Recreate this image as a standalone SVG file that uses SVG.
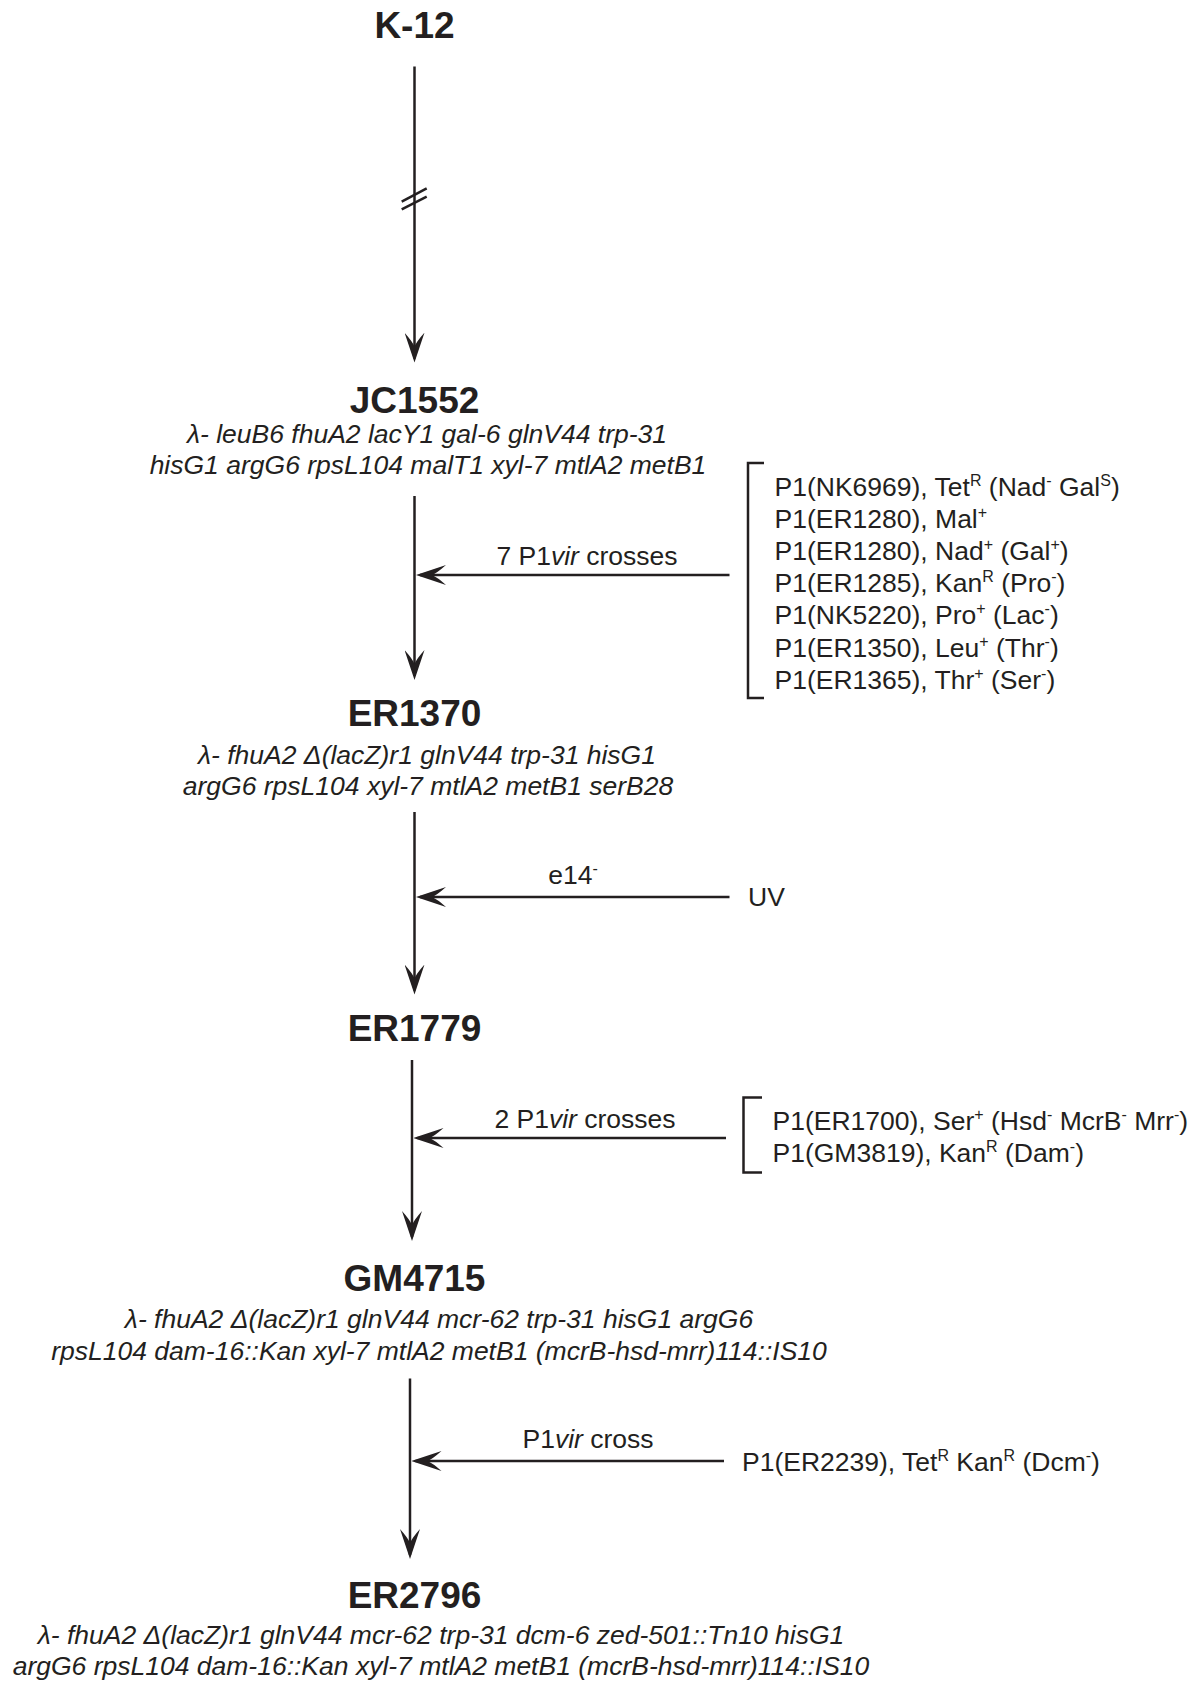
<svg xmlns="http://www.w3.org/2000/svg" width="1194" height="1682" viewBox="0 0 1194 1682">
<style>
text{font-family:"Liberation Sans",Arial,sans-serif;fill:#231f20}
.title{font-size:37px;font-weight:bold;text-anchor:middle}
.geno{font-size:26.5px;font-style:italic;text-anchor:middle}
.lbl{font-size:26.5px}
.mid{text-anchor:middle}
.sup{font-size:16px}
.it{font-style:italic}
.ln{stroke:#231f20;stroke-width:2.5;fill:none}
.arr{marker-end:url(#ah)}
</style>
<defs>
<marker id="ah" markerUnits="userSpaceOnUse" viewBox="0 0 30 20" refX="26" refY="10" markerWidth="30" markerHeight="20" orient="auto">
<path d="M30,10 L0,0 Q9,8 14,10 Q9,12 0,20 Z" fill="#231f20"/>
</marker>
</defs>
<rect width="1194" height="1682" fill="#fff"/>
<g id="connectors">
<line class="ln arr" x1="414.5" y1="66.5" x2="414.5" y2="358.6"/>
<line class="ln" x1="401.7" y1="201.7" x2="426.7" y2="188.3" stroke-width="2"/>
<line class="ln" x1="401.7" y1="209.3" x2="426.7" y2="196.7" stroke-width="2"/>
<line class="ln arr" x1="414.5" y1="496" x2="414.5" y2="676"/>
<line class="ln arr" x1="729.5" y1="575" x2="420" y2="575"/>
<line class="ln arr" x1="414.5" y1="812" x2="414.5" y2="990.5"/>
<line class="ln arr" x1="729.5" y1="897" x2="420" y2="897"/>
<line class="ln arr" x1="412" y1="1060" x2="412" y2="1237"/>
<line class="ln arr" x1="726" y1="1138" x2="417.5" y2="1138"/>
<line class="ln arr" x1="410" y1="1378.5" x2="410" y2="1555"/>
<line class="ln arr" x1="724" y1="1461" x2="415.5" y2="1461"/>
<path class="ln" d="M764,463 H748 V698 H764"/>
<path class="ln" d="M762,1097.5 H743.5 V1172.5 H762"/>
</g>
<g id="K-12"><text class="title" x="414.5" y="37.5">K-12</text></g>
<g id="JC1552">
<text class="title" x="414.5" y="413">JC1552</text>
<text class="geno" x="427" y="443">λ- leuB6 fhuA2 lacY1 gal-6 glnV44 trp-31</text>
<text class="geno" x="428" y="474">hisG1 argG6 rpsL104 malT1 xyl-7 mtlA2 metB1</text>
</g>
<g id="cross1">
<text class="lbl mid" x="587" y="565">7 P1<tspan class="it">vir</tspan> crosses</text>
<text class="lbl" x="774.5" y="495.6">P1(NK6969), Tet<tspan class="sup" dy="-10">R</tspan><tspan dy="10"> (Nad</tspan><tspan class="sup" dy="-10">-</tspan><tspan dy="10"> Gal</tspan><tspan class="sup" dy="-10">S</tspan><tspan dy="10">)</tspan></text>
<text class="lbl" x="774.5" y="527.8">P1(ER1280), Mal<tspan class="sup" dy="-10">+</tspan></text>
<text class="lbl" x="774.5" y="560">P1(ER1280), Nad<tspan class="sup" dy="-10">+</tspan><tspan dy="10"> (Gal</tspan><tspan class="sup" dy="-10">+</tspan><tspan dy="10">)</tspan></text>
<text class="lbl" x="774.5" y="592.2">P1(ER1285), Kan<tspan class="sup" dy="-10">R</tspan><tspan dy="10"> (Pro</tspan><tspan class="sup" dy="-10">-</tspan><tspan dy="10">)</tspan></text>
<text class="lbl" x="774.5" y="624.4">P1(NK5220), Pro<tspan class="sup" dy="-10">+</tspan><tspan dy="10"> (Lac</tspan><tspan class="sup" dy="-10">-</tspan><tspan dy="10">)</tspan></text>
<text class="lbl" x="774.5" y="656.6">P1(ER1350), Leu<tspan class="sup" dy="-10">+</tspan><tspan dy="10"> (Thr</tspan><tspan class="sup" dy="-10">-</tspan><tspan dy="10">)</tspan></text>
<text class="lbl" x="774.5" y="688.8">P1(ER1365), Thr<tspan class="sup" dy="-10">+</tspan><tspan dy="10"> (Ser</tspan><tspan class="sup" dy="-10">-</tspan><tspan dy="10">)</tspan></text>
</g>
<g id="ER1370">
<text class="title" x="414.5" y="726">ER1370</text>
<text class="geno" x="427" y="764">λ- fhuA2 Δ(lacZ)r1 glnV44 trp-31 hisG1</text>
<text class="geno" x="428" y="795">argG6 rpsL104 xyl-7 mtlA2 metB1 serB28</text>
</g>
<g id="uv">
<text class="lbl mid" x="573" y="884">e14<tspan class="sup" dy="-10">-</tspan></text>
<text class="lbl" x="748" y="905.5">UV</text>
</g>
<g id="ER1779"><text class="title" x="414.5" y="1041">ER1779</text></g>
<g id="cross2">
<text class="lbl mid" x="585" y="1127.5">2 P1<tspan class="it">vir</tspan> crosses</text>
<text class="lbl" x="772.5" y="1129.6">P1(ER1700), Ser<tspan class="sup" dy="-10">+</tspan><tspan dy="10"> (Hsd</tspan><tspan class="sup" dy="-10">-</tspan><tspan dy="10"> McrB</tspan><tspan class="sup" dy="-10">-</tspan><tspan dy="10"> Mrr</tspan><tspan class="sup" dy="-10">-</tspan><tspan dy="10">)</tspan></text>
<text class="lbl" x="772.5" y="1161.8">P1(GM3819), Kan<tspan class="sup" dy="-10">R</tspan><tspan dy="10"> (Dam</tspan><tspan class="sup" dy="-10">-</tspan><tspan dy="10">)</tspan></text>
</g>
<g id="GM4715">
<text class="title" x="414.5" y="1291">GM4715</text>
<text class="geno" x="439" y="1328">λ- fhuA2 Δ(lacZ)r1 glnV44 mcr-62 trp-31 hisG1 argG6</text>
<text class="geno" x="439" y="1360">rpsL104 dam-16::Kan xyl-7 mtlA2 metB1 (mcrB-hsd-mrr)114::IS10</text>
</g>
<g id="cross3">
<text class="lbl mid" x="588" y="1448">P1<tspan class="it">vir</tspan> cross</text>
<text class="lbl" x="742" y="1471">P1(ER2239), Tet<tspan class="sup" dy="-10">R</tspan><tspan dy="10"> Kan</tspan><tspan class="sup" dy="-10">R</tspan><tspan dy="10"> (Dcm</tspan><tspan class="sup" dy="-10">-</tspan><tspan dy="10">)</tspan></text>
</g>
<g id="ER2796">
<text class="title" x="414.5" y="1608">ER2796</text>
<text class="geno" x="441" y="1644">λ- fhuA2 Δ(lacZ)r1 glnV44 mcr-62 trp-31 dcm-6 zed-501::Tn10 hisG1</text>
<text class="geno" x="441" y="1675">argG6 rpsL104 dam-16::Kan xyl-7 mtlA2 metB1 (mcrB-hsd-mrr)114::IS10</text>
</g>
</svg>
